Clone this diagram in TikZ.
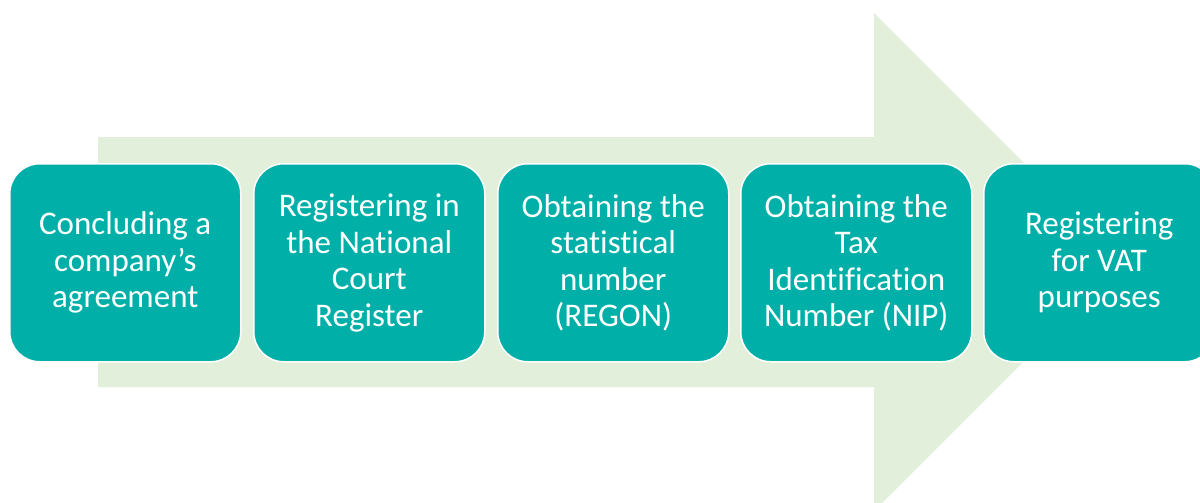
\documentclass[tikz,border=0pt]{standalone}
\usepackage{fontspec}
\setmainfont[Ligatures=NoCommon]{Carlito}
\definecolor{teal1}{HTML}{00B0A8}
\definecolor{lgreen}{HTML}{E2EFDA}
\begin{document}
\begin{tikzpicture}[x=1pt,y=-1pt,
  stepbox/.style={draw=white,line width=1.5pt,fill=teal1,rounded corners=30pt,
    minimum width=231pt,minimum height=198pt,inner sep=0pt,anchor=north west,
    text=white,align=center,font=\fontsize{33}{36.5}\selectfont}]
\useasboundingbox (0,0) rectangle (1200,503);
\fill[lgreen] (98,137) -- (874,137) -- (874,13) -- (1123,262) -- (874,511) -- (874,387) -- (98,387) -- cycle;
\node[stepbox] (s1) at (9,163) {Concluding a\\company’s\\agreement};
\node[stepbox] (s2) at (253,163) {Registering in\\the National\\Court\\Register};
\node[stepbox] (s3) at (497,163) {Obtaining the\\statistical\\number\\(REGON)};
\node[stepbox] (s4) at (740,163) {Obtaining the\\Tax\\Identification\\Number (NIP)};
\node[stepbox] (s5) at (983,163) {Registering\\for VAT\\purposes};
\end{tikzpicture}
\end{document}
